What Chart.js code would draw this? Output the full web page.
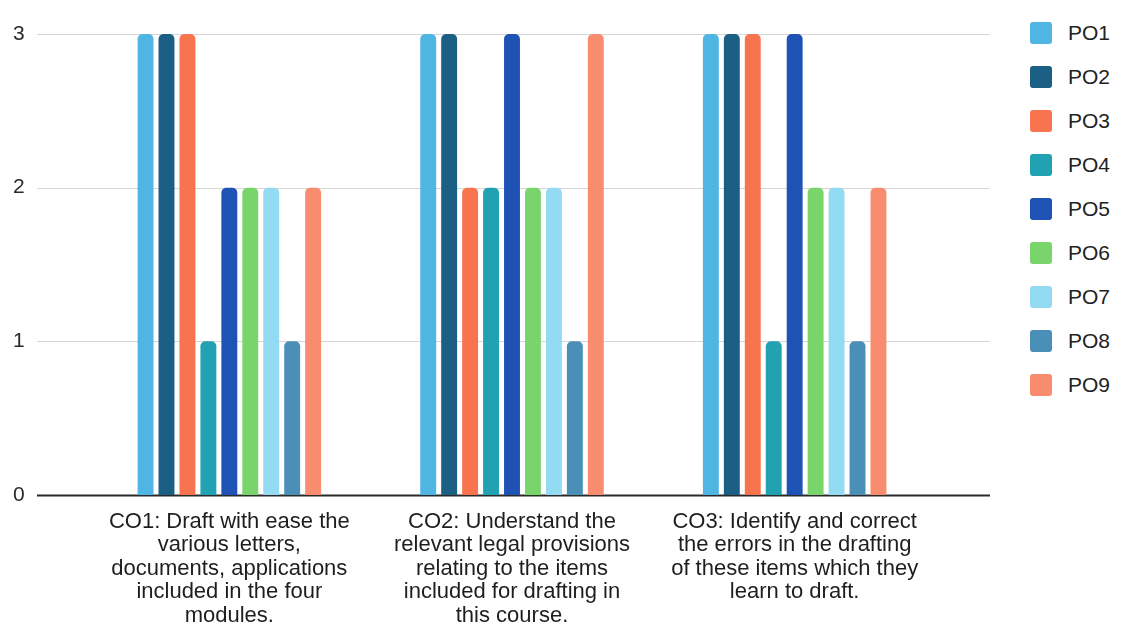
<!DOCTYPE html>
<html>
<head>
<meta charset="utf-8">
<script src="https://cdn.jsdelivr.net/npm/chart.js@4"></script>
<style>
  html, body { margin: 0; padding: 0; background: #fff; }
  body { width: 1126px; height: 626px; position: relative; overflow: hidden; font-family: 'Liberation Sans', Arial, sans-serif; }
  #wrap { position: absolute; left: 0; top: 0; width: 1010px; height: 626px; }
  #legend { position: absolute; left: 1030px; top: 11px; }
  .lg { display: flex; align-items: center; height: 44px; font-size: 21px; color: #222; }
  .lg span { display: inline-block; width: 22px; height: 22px; border-radius: 3px; margin-right: 16px; }
</style>
</head>
<body>
<div id="wrap"><canvas id="coChart"></canvas></div>
<div id="legend"></div>
<script>
const kategoriler = [
  ['CO1: Draft with ease the', 'various letters,', 'documents, applications', 'included in the four', 'modules.'],
  ['CO2: Understand the', 'relevant legal provisions', 'relating to the items', 'included for drafting in', 'this course.'],
  ['CO3: Identify and correct', 'the errors in the drafting', 'of these items which they', 'learn to draft.']
];
const seriAdlari = ['PO1', 'PO2', 'PO3', 'PO4', 'PO5', 'PO6', 'PO7', 'PO8', 'PO9'];
const renkler = ['#4fb6e4', '#1b5f85', '#f7744f', '#21a2b2', '#1f52b5', '#79d46c', '#93daf3', '#4a8fb8', '#f98c6f'];
const po1 = [3, 3, 3];
const po2 = [3, 3, 3];
const po3 = [3, 2, 3];
const po4 = [1, 2, 1];
const po5 = [2, 3, 3];
const po6 = [2, 2, 2];
const po7 = [2, 2, 2];
const po8 = [1, 1, 1];
const po9 = [2, 3, 2];
const yTicks = [0, 1, 2, 3];

const seriler = [po1, po2, po3, po4, po5, po6, po7, po8, po9];

// grid lines run wider than the plot area in the original
const genisGrid = {
  id: 'genisGrid',
  beforeDatasetsDraw(chart) {
    const y = chart.scales.y;
    const c = chart.ctx;
    c.save();
    y.ticks.forEach(t => {
      const py = Math.round(y.getPixelForValue(t.value)) + 0.5;
      c.beginPath();
      if (t.value === 0) {
        c.strokeStyle = '#2a2a2a';
        c.lineWidth = 2;
      } else {
        c.strokeStyle = '#d6d6d6';
        c.lineWidth = 1;
      }
      c.moveTo(37, py);
      c.lineTo(990, py);
      c.stroke();
    });
    c.restore();
  }
};

const ctx = document.getElementById('coChart');
new Chart(ctx, {
  type: 'bar',
  data: {
    labels: kategoriler,
    datasets: seriAdlari.map((ad, i) => ({
      label: ad,
      data: seriler[i],
      backgroundColor: renkler[i],
      borderRadius: 5,
      borderSkipped: 'start',
      categoryPercentage: 0.667,
      barPercentage: 0.76
    }))
  },
  options: {
    responsive: true,
    maintainAspectRatio: false,
    animation: false,
    layout: { padding: { left: 13, right: 74, top: 34, bottom: 0 } },
    plugins: {
      legend: { display: false },
      tooltip: { enabled: false }
    },
    scales: {
      x: {
        grid: { display: false },
        border: { display: false },
        afterFit: ax => { ax.height = 131; },
        ticks: {
          color: '#1e1e1e',
          font: { family: "'Liberation Sans', Arial, sans-serif", size: 22, lineHeight: 1.07 },
          maxRotation: 0,
          autoSkip: false,
          padding: 7
        }
      },
      y: {
        min: 0,
        max: 3,
        afterBuildTicks: ax => { ax.ticks = yTicks.map(v => ({ value: v })); },
        afterFit: ax => { ax.width = 75; },
        grid: { display: false },
        border: { display: false },
        ticks: {
          color: '#2a2a2a',
          font: { family: "'Liberation Sans', Arial, sans-serif", size: 21 },
          crossAlign: 'far',
          padding: 4
        }
      }
    }
  },
  plugins: [genisGrid]
});

document.getElementById('legend').innerHTML = seriAdlari.map((ad, i) =>
  `<div class="lg"><span style="background:${renkler[i]}"></span>${ad}</div>`
).join('');
</script>
</body>
</html>
